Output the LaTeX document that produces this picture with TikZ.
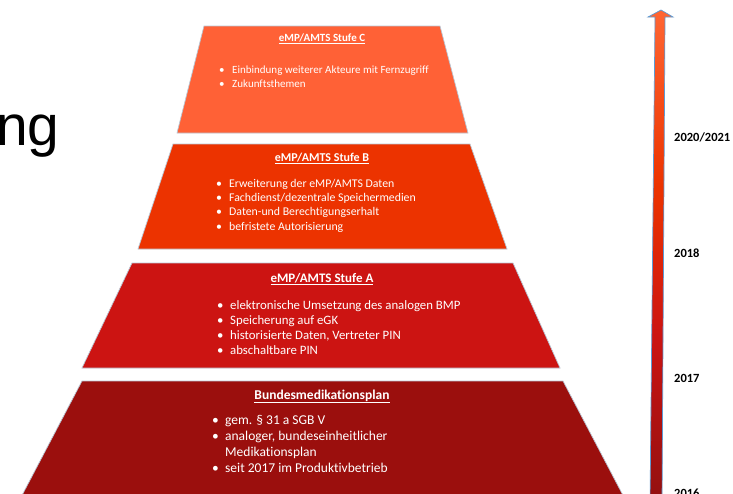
\documentclass[tikz,border=0pt]{standalone}
\usepackage{fontspec}
\setmainfont{Carlito}[Ligatures=NoCommon]
\newfontfamily\headfont{Liberation Sans}
\usetikzlibrary{positioning}

\definecolor{stageC}{HTML}{FF6136}
\definecolor{stageB}{HTML}{EC3300}
\definecolor{stageA}{HTML}{CC1412}
\definecolor{stageD}{HTML}{9B0F0D}
\definecolor{edgegray}{HTML}{B9C6D4}
\definecolor{arrowblue}{HTML}{5B9BD5}
\definecolor{arrowtop}{HTML}{FF6633}
\definecolor{arrowbottom}{HTML}{921010}

\pgfdeclareverticalshading{timeline}{100bp}{color(0bp)=(arrowbottom); color(25bp)=(arrowbottom); color(42bp)=(stageA); color(57bp)=(stageB); color(75bp)=(arrowtop); color(100bp)=(arrowtop)}

\newcommand{\bul}{\makebox[13pt][l]{\textbullet}}

\tikzset{
	stage/.style={draw=edgegray, line width=0.7pt},
	headline/.style={anchor=base, inner sep=0pt, text=white, font=\bfseries\fontsize{11}{13}\selectfont},
	itemlist/.style={anchor=base west, inner sep=0pt, align=left, text=white},
	yearlabel/.style={anchor=base west, inner sep=0pt, font=\bfseries\fontsize{12.5}{14}\selectfont}
}

\begin{document}
\begin{tikzpicture}[x=1pt,y=-1pt]
	\useasboundingbox (0,0) rectangle (733,493);

	\node[anchor=base west, inner sep=0pt, font=\headfont\fontsize{57}{60}\selectfont] (ng) at (-4,145) {ng};

	\path[stage, fill=stageC] (204,26) -- (440,26) -- (468,133) -- (177,133) -- cycle;
	\path[stage, fill=stageB] (173,144) -- (470,144) -- (507,249) -- (138,249) -- cycle;
	\path[stage, fill=stageA] (132,263) -- (513,263) -- (560,368) -- (82,368) -- cycle;
	\path[stage, fill=stageD] (82,381) -- (563,381) -- (627,503) -- (18,503) -- cycle;

	\node[headline] (titleC) at (322,41) {\underline{eMP/AMTS Stufe C}};
	\node[headline, font=\bfseries\fontsize{12}{14}\selectfont] (titleB) at (322,161) {\underline{eMP/AMTS Stufe B}};
	\node[headline, font=\bfseries\fontsize{13}{15}\selectfont] (titleA) at (322,282) {\underline{eMP/AMTS Stufe A}};
	\node[headline, font=\bfseries\fontsize{13.5}{15}\selectfont] (titleD) at (322,399) {\underline{Bundesmedikationsplan}};

	\node[itemlist, font=\fontsize{11}{14}\selectfont] (listC) at (219,87)
		{\bul Einbindung weiterer Akteure mit Fernzugriff\\ \bul Zukunftsthemen};
	\node[itemlist, font=\fontsize{11.8}{14.3}\selectfont] (listB) at (216,230)
		{\bul Erweiterung der eMP/AMTS Daten\\ \bul Fachdienst/dezentrale Speichermedien\\ \bul Daten-und Berechtigungserhalt\\ \bul befristete Autorisierung};
	\node[itemlist, font=\fontsize{12.8}{15}\selectfont] (listA) at (217,354)
		{\bul elektronische Umsetzung des analogen BMP\\ \bul Speicherung auf eGK\\ \bul historisierte Daten, Vertreter PIN\\ \bul abschaltbare PIN};
	\node[itemlist, font=\fontsize{13.5}{16}\selectfont] (listD) at (212,472)
		{\bul gem. § 31 a SGB V\\ \bul analoger, bundeseinheitlicher\\ \hspace*{13pt}Medikationsplan\\ \bul seit 2017 im Produktivbetrieb};

	\shadedraw[shading=timeline, draw=arrowblue, line width=0.7pt] (650,503) -- (655,17) -- (648,17) -- (661,10) -- (673,17) -- (665,17) -- (662,503) -- cycle;

	\node[yearlabel] (y2021) at (674,141) {2020/2021};
	\node[yearlabel] (y2018) at (674,257) {2018};
	\node[yearlabel] (y2017) at (674,382) {2017};
	\node[yearlabel] (y2016) at (674,497) {2016};
\end{tikzpicture}
\end{document}
